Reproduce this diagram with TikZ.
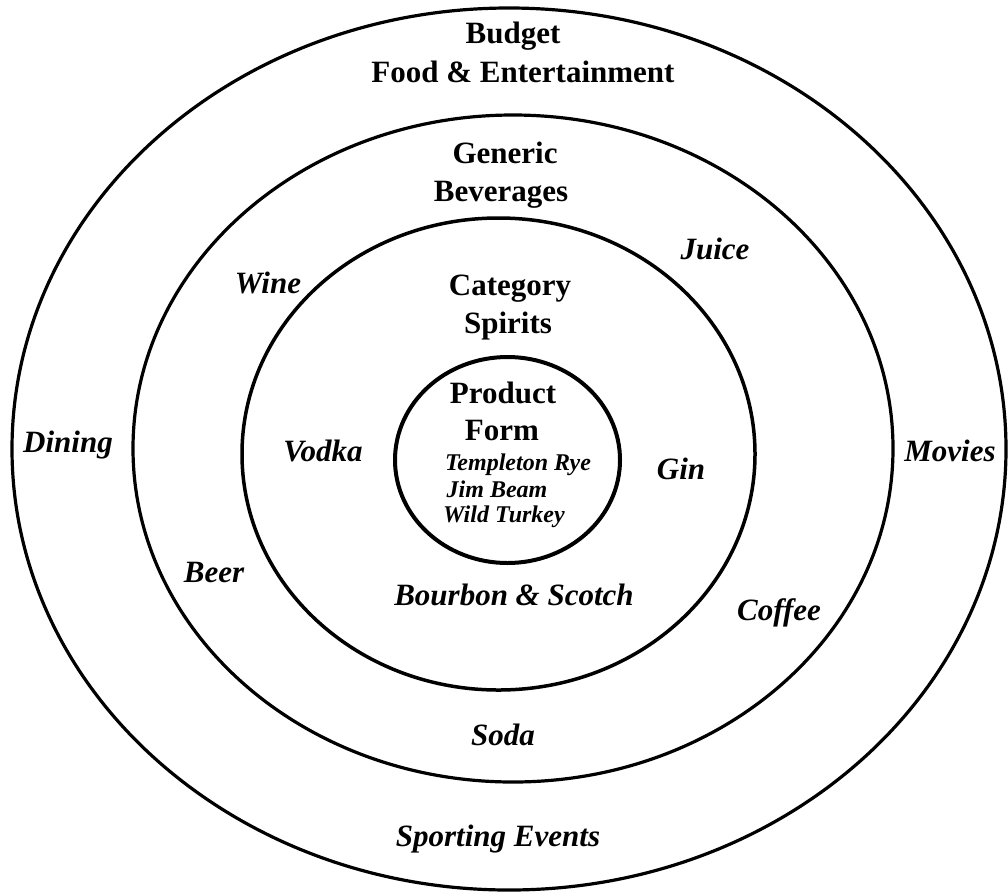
\documentclass[tikz,border=0pt]{standalone}
\usepackage{fontspec}
\setmainfont{Liberation Serif}
\tikzset{
  ring/.style={line width=3.2pt},
  head/.style={font=\fontsize{31}{37}\selectfont\bfseries, anchor=base, inner sep=0pt},
  item/.style={font=\fontsize{31}{37}\selectfont\bfseries\itshape, anchor=base, inner sep=0pt},
  brand/.style={font=\fontsize{24}{28}\selectfont\bfseries\itshape, anchor=base, inner sep=0pt}
}
\begin{document}
\begin{tikzpicture}[x=1pt,y=-1pt]
\useasboundingbox (0,0) rectangle (1008,892);
% rings
\draw[ring] (509,449) ellipse [x radius=497, y radius=441];
\draw[ring] (513,448.5) ellipse [x radius=380, y radius=333.5];
\draw[ring, line width=3.5pt] (498.5,454) ellipse [x radius=256.5, y radius=236];
\draw[ring, line width=4pt] (507.5,460) ellipse [x radius=112.5, y radius=103];
% headings
\node[head] (budget) at (513,43) {Budget};
\node[head] (food) at (523,82) {Food \& Entertainment};
\node[head] (generic) at (505,163) {Generic};
\node[head] (bever) at (501,201) {Beverages};
\node[head] (category) at (510,295) {Category};
\node[head] (spirits) at (508,333) {Spirits};
\node[head] (product) at (503,403) {Product};
\node[head] (form) at (502,440) {Form};
% brands
\node[brand] (templeton) at (518,470) {Templeton Rye};
\node[brand] (jim) at (497,497) {Jim Beam};
\node[brand] (wild) at (504,522) {Wild Turkey};
% items
\node[item] (dining) at (68,452) {Dining};
\node[item] (movies) at (950,461) {Movies};
\node[item] (sporting) at (498,846) {Sporting Events};
\node[item] (wine) at (268,293) {Wine};
\node[item] (juice) at (715,259) {Juice};
\node[item] (beer) at (214,582) {Beer};
\node[item] (coffee) at (779,620) {Coffee};
\node[item] (soda) at (503,745) {Soda};
\node[item] (vodka) at (323,461) {Vodka};
\node[item] (gin) at (681,479) {Gin};
\node[item] (bourbon) at (514,605) {Bourbon \& Scotch};
\end{tikzpicture}
\end{document}
